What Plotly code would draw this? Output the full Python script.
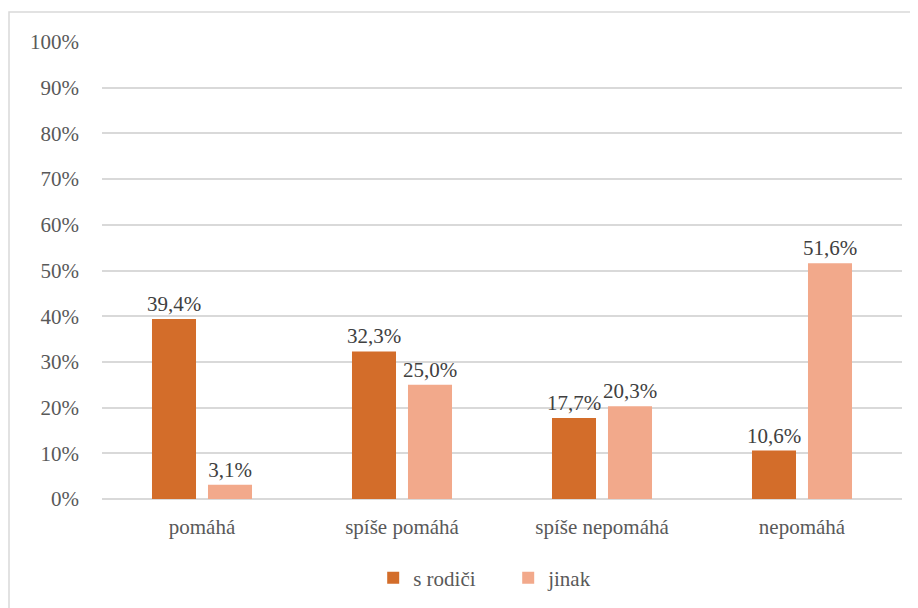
import plotly.graph_objects as go

categories = ["pomáhá", "spíše pomáhá", "spíše nepomáhá", "nepomáhá"]
s_rodici = [39.4, 32.3, 17.7, 10.6]
jinak = [3.1, 25.0, 20.3, 51.6]
series_names = ["s rodiči", "jinak"]
tick_vals = list(range(0, 101, 10))
tick_text = [f"{v}%" for v in tick_vals]

def fmt(v):
    return f"{v:.1f}".replace(".", ",") + "%"

FONT = "Times New Roman, Liberation Serif, Tinos, DejaVu Serif, serif"
W, H = 910, 600
L, T, PW, PH = 94, 34, 800, 457

fig = go.Figure()
fig.add_trace(go.Bar(x=categories, y=s_rodici, name=series_names[0],
                     marker=dict(color="#D36D2A", line=dict(width=0)),
                     text=[fmt(v) for v in s_rodici], textposition="outside", constraintext="none",
                     textfont=dict(size=21, color="#404040", family=FONT), cliponaxis=False))
fig.add_trace(go.Bar(x=categories, y=jinak, name=series_names[1],
                     marker=dict(color="#F2A98B", line=dict(width=0)),
                     text=[fmt(v) for v in jinak], textposition="outside", constraintext="none",
                     textfont=dict(size=21, color="#404040", family=FONT), cliponaxis=False))

fig.update_layout(
    width=W, height=H,
    margin=dict(l=L, r=W - L - PW, t=T, b=H - T - PH, autoexpand=False),
    paper_bgcolor="white", plot_bgcolor="white",
    font=dict(family=FONT, size=21, color="#595959"),
    barmode="group", bargap=0.44, bargroupgap=0.214,
    showlegend=True,
    legend=dict(orientation="h", x=0.339, xanchor="left", y=-0.173, yanchor="middle",
                font=dict(size=21, color="#595959", family=FONT), itemwidth=30,
                entrywidth=90, traceorder="normal"),
    xaxis=dict(showgrid=False, showline=False, ticks="", ticklabelstandoff=13,
               tickfont=dict(size=21, color="#595959", family=FONT)),
    yaxis=dict(range=[0, 100], tickvals=tick_vals, ticktext=tick_text, showgrid=True,
               gridcolor="#D9D9D9", gridwidth=1.5, zeroline=True, zerolinecolor="#D9D9D9",
               zerolinewidth=1.5, showline=False, ticks="", ticklabelstandoff=22,
               tickfont=dict(size=21, color="#595959", family=FONT)),
    shapes=[dict(type="rect", xref="paper", yref="paper",
                 x0=(1 - L) / PW, x1=(W + 20 - L) / PW,
                 y0=-(H + 20 - T - PH) / PH, y1=(PH + T - 4) / PH,
                 line=dict(color="#D9D9D9", width=1.5), fillcolor="rgba(0,0,0,0)", layer="below")],
)
fig.write_html("out.html")
